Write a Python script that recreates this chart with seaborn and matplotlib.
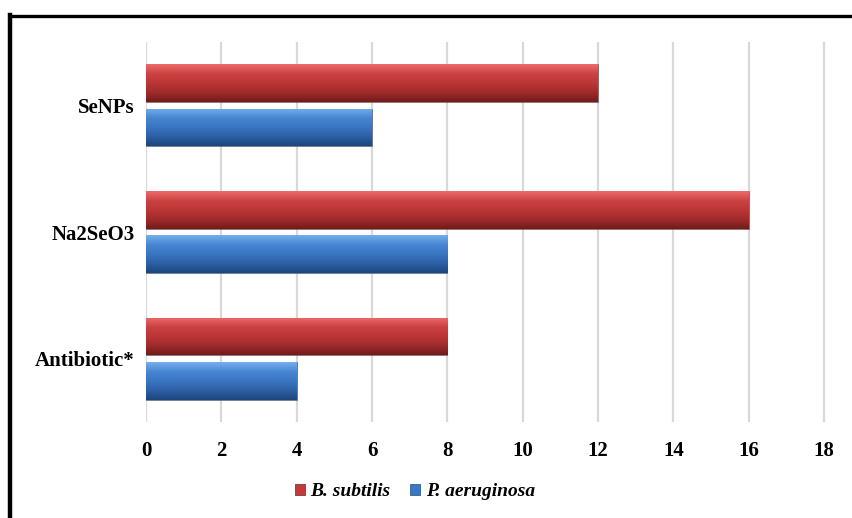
import numpy as np
import pandas as pd
import matplotlib
matplotlib.use("Agg")
import matplotlib.pyplot as plt
import seaborn as sns
from matplotlib.patches import Patch
from matplotlib.lines import Line2D
from matplotlib.colors import LinearSegmentedColormap

categories = ["SeNPs", "Na2SeO3", "Antibiotic*"]
series_names = ["B. subtilis", "P. aeruginosa"]
b_subtilis = [12, 16, 8]
p_aeruginosa = [6, 8, 4]
x_ticks = [0, 2, 4, 6, 8, 10, 12, 14, 16, 18]

df = pd.DataFrame({
    "category": categories * 2,
    "value": b_subtilis + p_aeruginosa,
    "series": [series_names[0]] * 3 + [series_names[1]] * 3,
})

sns.set_theme(style="white")
plt.rcParams["font.family"] = ["Liberation Serif", "DejaVu Serif"]
plt.rcParams["text.color"] = "black"
plt.rcParams["xtick.color"] = "black"
plt.rcParams["ytick.color"] = "black"

fig = plt.figure(figsize=(8.52, 5.18), dpi=100)
ax = fig.add_axes([146 / 852, 1 - 422 / 518, (832 - 146) / 852, (422 - 42) / 518])

red_mid = "#C23B3B"
blue_mid = "#3B78C4"
palette = {series_names[0]: red_mid, series_names[1]: blue_mid}

sns.barplot(data=df, y="category", x="value", hue="series", order=categories,
            hue_order=series_names, palette=palette, orient="h", width=0.7,
            gap=0.15, ax=ax, legend=False, saturation=1, zorder=3)

cm_red = LinearSegmentedColormap.from_list("r", ["#EE6A6A", "#CC4242", "#BC3636", "#A02B2B", "#721B1B"])
cm_blue = LinearSegmentedColormap.from_list("b", ["#74AEEC", "#4786D3", "#3A76C2", "#2D60A5", "#1D467C"])
grad = np.linspace(0, 1, 64).reshape(-1, 1)
for p in list(ax.patches):
    fc = p.get_facecolor()
    cmap = cm_red if fc[0] > fc[2] else cm_blue
    x0, y0 = p.get_x(), p.get_y()
    w, h = p.get_width(), p.get_height()
    im = ax.imshow(grad, cmap=cmap, aspect="auto", extent=(x0, x0 + w, y0 + h, y0),
                   origin="upper", zorder=4, interpolation="bilinear")
    im.set_clip_path(p)
    p.set_edgecolor("#5a5a5a")
    p.set_linewidth(0.4)

scale = (824 - 146) / 18.0
ax.set_xlim(0, (832 - 146) / scale)
ax.set_ylim(2.5, -0.5)
ax.set_xticks(x_ticks)
ax.set_xticklabels([str(t) for t in x_ticks], fontsize=15, fontweight="bold")
ax.tick_params(axis="y", labelsize=15, pad=8, length=0)
ax.tick_params(axis="x", pad=14, length=0)
for lbl in ax.get_yticklabels():
    lbl.set_fontweight("bold")
ax.set_xlabel("")
ax.set_ylabel("")
ax.grid(axis="x", color="#D9D9D9", linewidth=1.6, zorder=0)
ax.set_axisbelow(True)
for s in ax.spines.values():
    s.set_visible(False)

handles = [Patch(facecolor=red_mid, edgecolor="#7A1E1E", linewidth=0.5),
           Patch(facecolor=blue_mid, edgecolor="#1F4A82", linewidth=0.5)]
fig.legend(handles, series_names, loc="center", bbox_to_anchor=(0.487, 1 - 492 / 518),
           ncol=2, frameon=False, handlelength=0.5, handleheight=0.5, handletextpad=0.3,
           columnspacing=1.0, prop={"family": ["Liberation Serif"], "weight": "bold",
                                    "style": "italic", "size": 14})

fig.add_artist(Line2D([10 / 852, 10 / 852], [0, 1 - 15 / 518], transform=fig.transFigure,
                      color="black", linewidth=3.2, solid_capstyle="projecting"))
fig.add_artist(Line2D([10 / 852, 1], [1 - 16 / 518, 1 - 16 / 518], transform=fig.transFigure,
                      color="black", linewidth=2.4, solid_capstyle="projecting"))

fig.savefig("out.png", dpi=100)
